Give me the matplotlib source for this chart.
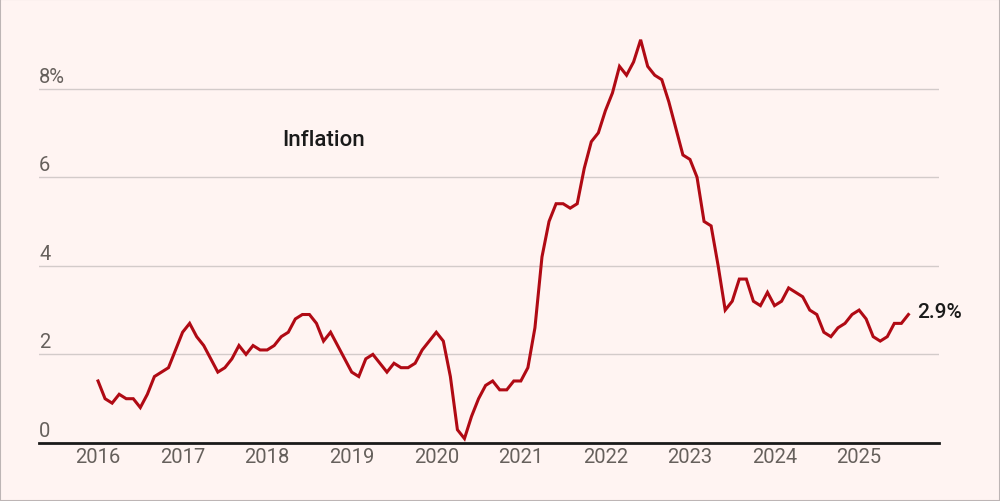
import numpy as np
import matplotlib
matplotlib.use("Agg")
import matplotlib.pyplot as plt
import matplotlib.transforms as mtransforms
from matplotlib.patches import Rectangle

# ---- Data: monthly inflation, Jan 2016 - Aug 2025 (%) ----
start_year = 2016
inflation = [
    1.4, 1.0, 0.9, 1.1, 1.0, 1.0, 0.8, 1.1, 1.5, 1.6, 1.7, 2.1,   # 2016
    2.5, 2.7, 2.4, 2.2, 1.9, 1.6, 1.7, 1.9, 2.2, 2.0, 2.2, 2.1,   # 2017
    2.1, 2.2, 2.4, 2.5, 2.8, 2.9, 2.9, 2.7, 2.3, 2.5, 2.2, 1.9,   # 2018
    1.6, 1.5, 1.9, 2.0, 1.8, 1.6, 1.8, 1.7, 1.7, 1.8, 2.1, 2.3,   # 2019
    2.5, 2.3, 1.5, 0.3, 0.1, 0.6, 1.0, 1.3, 1.4, 1.2, 1.2, 1.4,   # 2020
    1.4, 1.7, 2.6, 4.2, 5.0, 5.4, 5.4, 5.3, 5.4, 6.2, 6.8, 7.0,   # 2021
    7.5, 7.9, 8.5, 8.3, 8.6, 9.1, 8.5, 8.3, 8.2, 7.7, 7.1, 6.5,   # 2022
    6.4, 6.0, 5.0, 4.9, 4.0, 3.0, 3.2, 3.7, 3.7, 3.2, 3.1, 3.4,   # 2023
    3.1, 3.2, 3.5, 3.4, 3.3, 3.0, 2.9, 2.5, 2.4, 2.6, 2.7, 2.9,   # 2024
    3.0, 2.8, 2.4, 2.3, 2.4, 2.7, 2.7, 2.9,                       # 2025
]
years = list(range(2016, 2026))
y_ticks = [0, 2, 4, 6, 8]
y_labels = ["0", "2", "4", "6", "8%"]
last_label = "2.9%"
series_label = "Inflation"

# decimal-year x position for each month
x = start_year + np.arange(len(inflation)) / 12.0

BG = "#FFF4F2"
LINE = "#B00A14"
GRID = "#D3CBCA"
TICK = "#66605C"

plt.rcParams["font.family"] = ["Roboto", "DejaVu Sans"]

fig = plt.figure(figsize=(10, 5.02), dpi=100, facecolor=BG)
ax = fig.add_axes([0.039, 0.1155, 0.900, 0.8386])
ax.set_facecolor(BG)

ax.plot(x, inflation, color=LINE, lw=2.2, solid_joinstyle="miter", zorder=3)

ax.set_xlim(2015.302, 2025.945)
ax.set_ylim(0, 9.5)

# gridlines
for v in y_ticks[1:]:
    ax.axhline(v, color=GRID, lw=1.0, zorder=1)
ax.axhline(0, color="#1a1a1a", lw=2.0, zorder=4, clip_on=False)

for s in ax.spines.values():
    s.set_visible(False)
ax.set_yticks([])
ax.set_xticks(years)
ax.set_xticklabels([str(y) for y in years], fontsize=14.5, color=TICK)
ax.tick_params(axis="x", length=0, pad=3)

# y labels sit above the gridlines, left-aligned
trans = mtransforms.blended_transform_factory(ax.transAxes, ax.transData)
for v, lab in zip(y_ticks, y_labels):
    ax.annotate(lab, xy=(0, v), xycoords=trans, xytext=(0, 9),
                textcoords="offset points", ha="left", va="center",
                fontsize=14.5, color=TICK)

ax.text(2018.67, 6.86, series_label, ha="center", va="center",
        fontsize=16, fontweight="medium", color="#1a1a1a")

ax.annotate(last_label, xy=(x[-1], inflation[-1]), xytext=(6, 2),
            textcoords="offset points", ha="left", va="center",
            fontsize=15, fontweight="medium", color="#1a1a1a",
            annotation_clip=False)

# thin frame around the whole picture
fig.patches.append(Rectangle((0, 0), 1, 1, transform=fig.transFigure,
                             fill=False, edgecolor="#BDB5B5", lw=1.5))

fig.savefig("out.png", dpi=100, facecolor=BG)
